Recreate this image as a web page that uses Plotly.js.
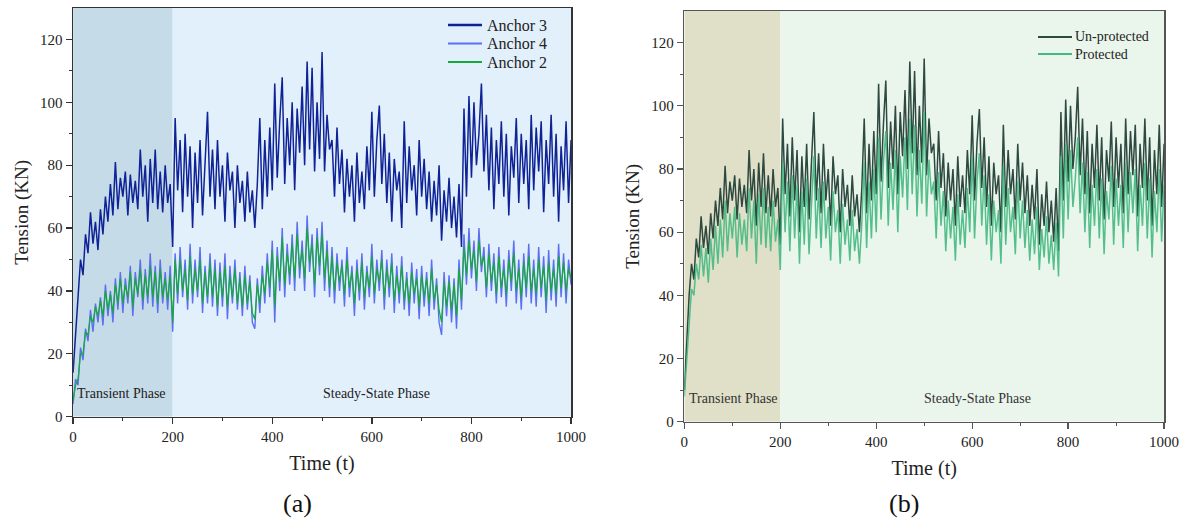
<!DOCTYPE html>
<html>
<head>
<meta charset="utf-8">
<script src="https://cdn.plot.ly/plotly-3.0.1.min.js"></script>
<style>html,body{margin:0;padding:0;background:#fff;}#chart{width:1186px;height:524px;}</style>
</head>
<body>
<div id="chart"></div>
<script>
// time axis: 0..1000 in steps of 5
const time = [];
for (let i = 0; i <= 200; i++) time.push(i * 5);

const anchor3 = [
14,26,40,50,45,58,52,65,55,62,
53,66,58,70,62,74,64,81,66,76,
70,78,64,77,68,75,66,85,70,80,
62,82,68,85,66,78,65,80,68,74,
54,95,72,88,65,90,70,86,60,84,
68,88,64,82,97,70,85,66,88,70,
80,62,84,72,78,60,80,68,75,62,
78,65,72,60,74,95,66,88,70,92,
72,106,76,94,108,74,95,80,100,72,
98,84,105,80,113,85,111,78,100,82,
116,78,96,85,88,70,92,74,85,65,
82,70,80,62,84,68,78,66,86,72,
97,70,88,99,74,90,68,84,62,82,
72,78,60,94,68,86,72,80,64,88,
70,82,66,78,62,75,64,80,56,72,
62,76,60,70,57,74,54,98,70,102,
76,100,80,90,106,78,96,72,92,66,
88,74,94,70,90,64,86,76,95,68,
90,74,88,66,96,72,92,78,94,65,
88,74,96,70,90,62,86,72,94,68,
88];

const anchor4 = [
4,12,10,22,18,28,24,34,27,36,
30,38,29,42,32,40,30,44,34,46,
33,44,36,48,32,46,38,50,34,47,
36,52,35,48,33,50,36,46,34,48,
27,52,36,54,38,50,34,55,36,50,
38,54,33,48,36,52,35,50,32,49,
35,52,31,48,36,50,34,46,32,48,
34,45,30,28,44,33,48,36,52,38,
56,30,54,40,60,38,55,42,58,40,
62,44,56,40,64,46,58,38,60,45,
62,40,56,38,54,36,52,40,50,35,
54,38,48,32,50,37,52,34,48,38,
55,36,50,40,53,34,50,38,52,33,
48,36,51,34,46,32,49,36,47,31,
48,35,46,32,50,34,44,30,26,46,
32,45,30,44,28,50,34,58,42,60,
44,56,40,60,46,54,38,55,40,52,
36,54,38,50,35,53,40,56,36,50,
34,52,38,55,36,50,35,54,38,51,
33,53,37,50,35,55,38,52,36,50,
42];

const anchor2 = [
5,10,12,20,20,27,26,32,30,35,
32,37,32,40,34,39,33,42,36,44,
36,42,38,46,35,44,39,47,37,45,
38,48,38,46,36,47,38,44,37,45,
30,50,39,50,40,47,37,51,39,47,
40,50,36,46,38,49,38,47,35,46,
38,48,35,45,38,47,36,44,35,45,
36,43,33,31,42,36,45,39,49,41,
53,35,51,43,57,42,52,45,55,44,
58,47,53,44,60,49,55,42,57,48,
58,44,53,41,51,40,49,43,48,39,
50,41,46,36,47,40,49,38,46,41,
51,39,47,43,50,38,47,41,49,37,
45,39,48,37,44,36,46,39,44,35,
45,38,44,36,47,37,42,34,30,43,
35,43,34,42,32,47,37,54,45,56,
47,53,43,56,48,51,41,52,43,49,
39,51,41,47,39,50,43,52,40,47,
38,49,41,51,40,47,39,50,41,48,
37,49,40,47,39,51,41,49,40,47,
44];

const unprotected = [
10,26,40,50,45,58,52,65,55,62,
53,66,58,70,62,74,64,81,66,76,
70,78,64,77,68,75,66,86,70,80,
62,82,68,85,66,78,65,80,68,74,
56,96,72,88,65,90,70,86,60,84,
68,88,64,82,98,70,85,66,88,70,
80,62,84,72,78,60,80,68,75,62,
78,65,72,60,74,96,66,88,70,92,
72,107,76,94,108,74,95,80,100,72,
98,84,105,80,114,85,111,78,100,82,
115,78,96,85,88,70,92,74,85,65,
82,70,80,62,84,68,78,66,86,72,
97,70,88,99,74,90,68,84,62,82,
72,78,60,94,68,86,72,80,64,88,
70,82,66,78,62,75,64,80,56,72,
62,76,60,70,57,74,54,98,70,102,
76,100,80,90,106,78,96,72,92,66,
88,74,94,70,90,64,86,76,95,68,
90,74,88,66,96,72,92,78,94,65,
88,74,96,70,90,62,86,72,94,68,
88];

const protectedT = [
8,20,30,42,40,50,45,56,46,55,
44,58,48,62,50,64,52,70,54,66,
58,68,52,66,56,64,54,74,58,70,
50,72,56,74,55,68,54,70,57,64,
48,82,60,76,54,78,58,75,50,73,
56,77,53,71,84,58,74,55,76,58,
68,51,73,60,67,50,69,56,64,51,
67,54,61,50,63,82,55,76,58,80,
60,90,64,82,92,62,82,67,86,60,
84,71,90,67,96,72,94,65,86,69,
98,65,83,72,76,58,79,62,73,54,
70,58,68,51,72,56,67,55,74,60,
84,58,76,85,62,78,56,72,51,70,
60,67,50,81,56,74,60,68,53,76,
58,70,55,67,51,64,53,68,48,61,
52,65,50,59,48,63,46,84,58,88,
64,86,68,77,90,66,82,60,79,55,
75,62,80,58,77,53,73,64,81,56,
77,62,75,55,82,60,79,66,80,54,
75,62,82,58,77,52,73,60,80,57,
75];

const legendA = ["Anchor 3", "Anchor 4", "Anchor 2"];
const legendB = ["Un-protected", "Protected"];
const xTickVals = [0,200,400,600,800,1000];
const yTickVals = [0,20,40,60,80,100,120];

const serif = "Liberation Serif, Times New Roman, serif";
const colA = ["#0f2396", "#5b6ff0", "#16a93a"];
const colB = ["#2e4a40", "#45b982"];

const traces = [
  {x: time, y: anchor3, name: legendA[0], type: "scatter", mode: "lines", xaxis: "x", yaxis: "y",
   line: {color: colA[0], width: 1.5}},
  {x: time, y: anchor4, name: legendA[1], type: "scatter", mode: "lines", xaxis: "x", yaxis: "y",
   line: {color: colA[1], width: 1.4}},
  {x: time, y: anchor2, name: legendA[2], type: "scatter", mode: "lines", xaxis: "x", yaxis: "y",
   line: {color: colA[2], width: 1.2}},
  {x: time, y: unprotected, name: legendB[0], type: "scatter", mode: "lines", xaxis: "x2", yaxis: "y2",
   line: {color: colB[0], width: 1.5}},
  {x: time, y: protectedT, name: legendB[1], type: "scatter", mode: "lines", xaxis: "x2", yaxis: "y2",
   opacity: 0.9, line: {color: colB[1], width: 1.5}}
];

function xax(domain, anchor, lineColor) {
  return {
    domain: domain, anchor: anchor, range: [0, 1000], tickvals: xTickVals,
    showgrid: false, zeroline: false, showline: true, linecolor: lineColor, linewidth: 1.5,
    mirror: true, ticks: "outside", ticklen: 6, tickwidth: 1.3, tickcolor: lineColor,
    minor: {ticks: "outside", ticklen: 3, tickwidth: 1, tickcolor: lineColor, tickvals: [100,300,500,700,900]},
    tickfont: {family: serif, size: 15, color: "#222"},
    title: {text: "Time (t)", font: {family: serif, size: 20, color: "#222"}, standoff: 12}
  };
}
function yax(domain, anchor, lineColor) {
  return {
    domain: domain, anchor: anchor, range: [0, 130], tickvals: yTickVals,
    showgrid: false, zeroline: false, showline: true, linecolor: lineColor, linewidth: 1.5,
    mirror: true, ticks: "outside", ticklen: 6, tickwidth: 1.3, tickcolor: lineColor,
    minor: {ticks: "outside", ticklen: 3, tickwidth: 1, tickcolor: lineColor, tickvals: [10,30,50,70,90,110]},
    tickfont: {family: serif, size: 15, color: "#222"},
    title: {text: "Tension (KN)", font: {family: serif, size: 19, color: "#222"}, standoff: 6}
  };
}

const W = 1186, H = 524;
const shapes = [
  {type: "rect", xref: "x", yref: "y", x0: 0, x1: 200, y0: 0, y1: 130, fillcolor: "#c6dbe8", line: {width: 0}, layer: "below"},
  {type: "rect", xref: "x", yref: "y", x0: 200, x1: 1000, y0: 0, y1: 130, fillcolor: "#e2f0fc", line: {width: 0}, layer: "below"},
  {type: "rect", xref: "x2", yref: "y2", x0: 0, x1: 200, y0: 0, y1: 130, fillcolor: "#e0e0c8", line: {width: 0}, layer: "below"},
  {type: "rect", xref: "x2", yref: "y2", x0: 200, x1: 1000, y0: 0, y1: 130, fillcolor: "#eaf5ec", line: {width: 0}, layer: "below"}
];
const annotations = [
  {xref: "x", yref: "y", x: 4, y: 7.5, xanchor: "left", yanchor: "middle", showarrow: false,
   text: "Transient Phase", font: {family: serif, size: 14, color: "#222"}},
  {xref: "x", yref: "y", x: 610, y: 7.5, xanchor: "center", yanchor: "middle", showarrow: false,
   text: "Steady-State Phase", font: {family: serif, size: 14, color: "#222"}},
  {xref: "x2", yref: "y2", x: 6, y: 7.5, xanchor: "left", yanchor: "middle", showarrow: false,
   text: "Transient Phase", font: {family: serif, size: 14, color: "#333"}},
  {xref: "x2", yref: "y2", x: 611, y: 7.5, xanchor: "center", yanchor: "middle", showarrow: false,
   text: "Steady-State Phase", font: {family: serif, size: 14, color: "#333"}},
  {xref: "paper", yref: "paper", x: 297 / W, y: (H - 503) / H, xanchor: "center", yanchor: "middle", showarrow: false,
   text: "(a)", font: {family: serif, size: 26, color: "#111"}},
  {xref: "paper", yref: "paper", x: 904 / W, y: (H - 503) / H, xanchor: "center", yanchor: "middle", showarrow: false,
   text: "(b)", font: {family: serif, size: 26, color: "#111"}}
];
// legends (drawn as legend keys + text)
legendA.forEach((name, i) => {
  const yy = (H - (25 + i * 18.5)) / H;
  shapes.push({type: "line", xref: "paper", yref: "paper", x0: 448 / W, x1: 482 / W, y0: yy, y1: yy,
    line: {color: colA[i], width: i === 0 ? 2.6 : 2}});
  annotations.push({xref: "paper", yref: "paper", x: 485 / W, y: yy, xanchor: "left", yanchor: "middle",
    showarrow: false, text: name, font: {family: serif, size: 16, color: "#222"}});
});
legendB.forEach((name, i) => {
  const yy = (H - (37 + i * 17)) / H;
  shapes.push({type: "line", xref: "paper", yref: "paper", x0: 1038 / W, x1: 1072 / W, y0: yy, y1: yy,
    line: {color: colB[i], width: 2}});
  annotations.push({xref: "paper", yref: "paper", x: 1073 / W, y: yy, xanchor: "left", yanchor: "middle",
    showarrow: false, text: name, font: {family: serif, size: 14, color: "#222"}});
});

const layout = {
  width: W, height: H,
  margin: {l: 0, r: 0, t: 0, b: 0},
  paper_bgcolor: "#ffffff", plot_bgcolor: "rgba(0,0,0,0)",
  showlegend: false,
  xaxis: xax([0.0616, 0.4815], "y", "#333"),
  yaxis: yax([0.2048, 0.9847], "x", "#333"),
  xaxis2: xax([0.5770, 0.9815], "y2", "#555"),
  yaxis2: yax([0.1952, 0.979], "x2", "#555"),
  shapes: shapes,
  annotations: annotations
};

Plotly.newPlot("chart", traces, layout, {displayModeBar: false, staticPlot: true});
</script>
</body>
</html>
